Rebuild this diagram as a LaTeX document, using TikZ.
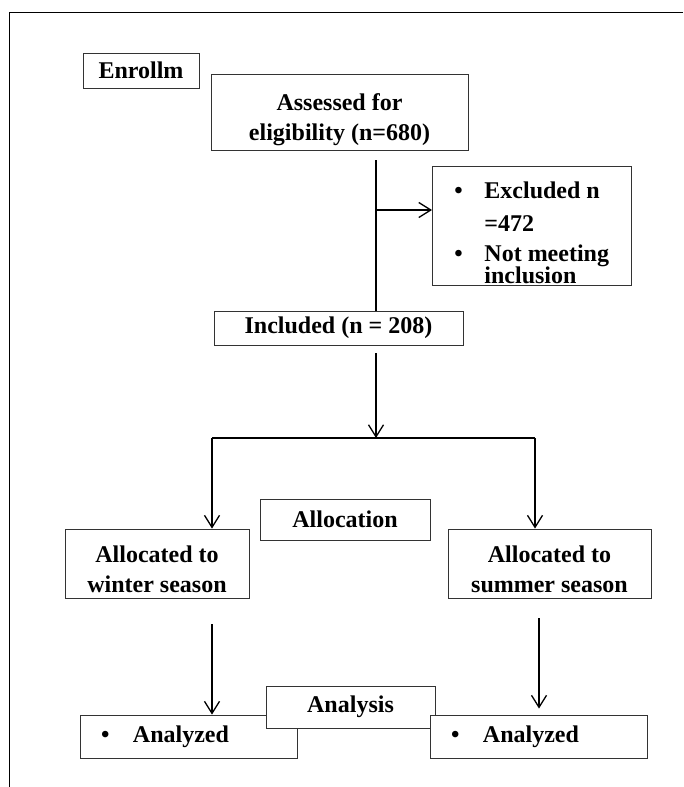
\documentclass[tikz,border=0pt]{standalone}
\usepackage{fontspec}
\setmainfont{Liberation Serif}
\usetikzlibrary{arrows.meta, positioning}
\newcommand{\dotitem}[1][30pt]{\makebox[#1][l]{•}}
\newcommand{\lowtext}[1]{\rule{0pt}{#1}}

\begin{document}
\begin{tikzpicture}[
    x=1pt, y=-1pt,
    box/.style={
        draw=black!80, line width=0.9pt,
        fill=white, inner sep=0pt, align=center,
        font=\fontsize{24}{30}\selectfont\bfseries
    },
    list/.style={box, align=left,
        inner xsep=21pt},
    line/.style={line width=1.3pt},
    arr/.style={-{Straight Barb[length=12pt, width=15pt]},
        line width=1.3pt}
]
\useasboundingbox (0,0) rectangle (683,787);
\draw[line width=1.4pt] (683,12.5) -- (9.5,12.5) -- (9.5,787);

\node[box, minimum width=116pt, minimum height=35pt] (enroll) at (141,70.5) {Enrollm};
\node[box, minimum width=257pt, minimum height=76pt] (assess) at (339.5,112)
    {\lowtext{33pt}Assessed for\\eligibility (n=680)};
\node[list, anchor=west, inner xsep=22pt, minimum height=119pt] (excl) at (432,225.5)
    {\lowtext{31pt}\dotitem Excluded n\\[3pt] \hspace*{30pt}=472\\ \dotitem Not meeting\\[-8pt] \hspace*{30pt}inclusion};
\node[box, minimum width=249pt, minimum height=34pt] (incl) at (338.5,328) {Included (n = 208)};

\node[box, minimum width=170pt, minimum height=41pt] (alloc) at (345,519.5) {Allocation};
\node[box, minimum width=184pt, minimum height=69pt] (winter) at (157,563.5)
    {\lowtext{28pt}Allocated to\\winter season};
\node[box, minimum width=203pt, minimum height=69pt] (summer) at (549.5,563.5)
    {\lowtext{28pt}Allocated to\\summer season};

\node[list, text width=175pt, minimum height=43pt] (anL) at (188.5,736.5) {\dotitem[32pt]Analyzed};
\node[box, minimum width=169pt, minimum height=42pt] (analysis) at (350.5,707) {Analysis};
\node[list, text width=175pt, minimum height=43pt] (anR) at (538.5,736.5) {\dotitem[32pt]Analyzed};

% screening
\coordinate (drop) at (376,160);
\coordinate (branch) at (376,210);
\draw[line] (drop) -- (drop |- incl.north);
\draw[arr] (branch) -- (branch -| excl.west);

% split into two seasons
\coordinate (fork) at (376,438);
\coordinate (forkL) at (212,438);
\coordinate (forkR) at (535,438);
\draw[arr] ([yshift=-8pt]incl.south -| fork) -- (fork);
\draw[line] (forkL) -- (forkR);
\draw[arr] (forkL) -- (forkL |- winter.north);
\draw[arr] (forkR) -- (forkR |- summer.north);

% analysis
\coordinate (dropR) at (539,618);
\draw[arr] ([yshift=-26pt]winter.south -| forkL) -- (forkL |- anL.north);
\draw[arr] (dropR) -- ([yshift=6pt]dropR |- anR.north);
\end{tikzpicture}
\end{document}
